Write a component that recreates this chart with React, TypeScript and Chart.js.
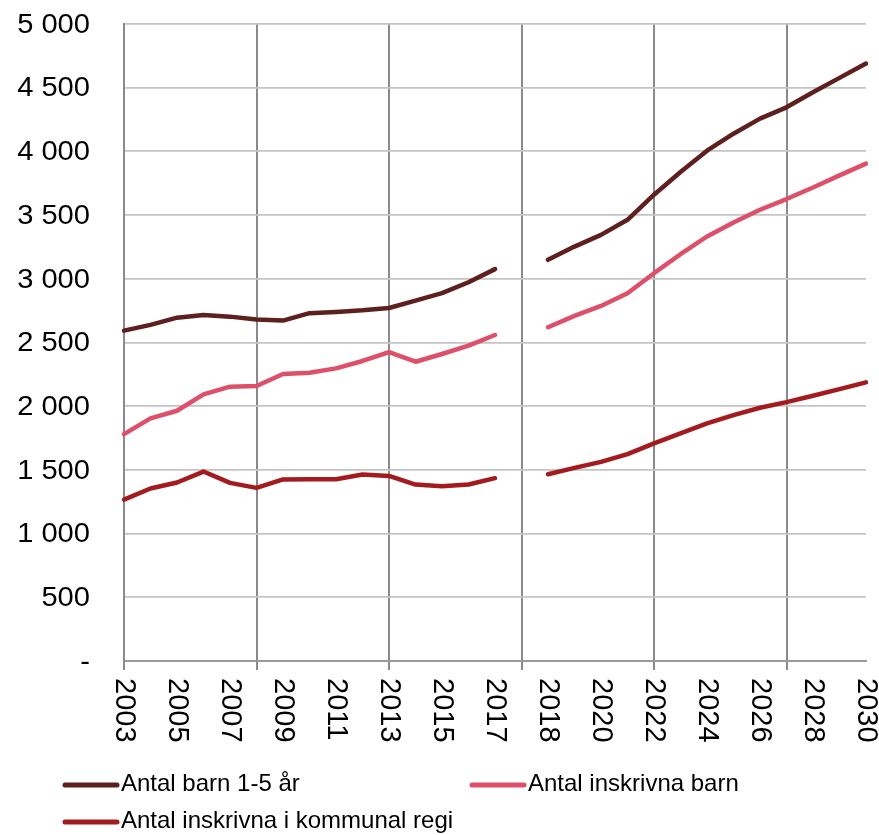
import { useEffect, useRef } from "react";
import { Chart, registerables } from "chart.js";

Chart.register(...registerables);

// Historical years, one empty slot separating history from the forecast, then forecast years
const historyYears = ["2003", "2004", "2005", "2006", "2007", "2008", "2009", "2010", "2011", "2012", "2013", "2014", "2015", "2016", "2017"];
const forecastYears = ["2018", "2019", "2020", "2021", "2022", "2023", "2024", "2025", "2026", "2027", "2028", "2029", "2030"];
const categories = [...historyYears, "", ...forecastYears];

// Year labels written under the axis
const xTickLabels = ["2003", "2005", "2007", "2009", "2011", "2013", "2015", "2017", "2018", "2020", "2022", "2024", "2026", "2028", "2030"];

// Value axis
const yTickValues = [0, 500, 1000, 1500, 2000, 2500, 3000, 3500, 4000, 4500, 5000];
const yTickLabels = ["-", "500", "1 000", "1 500", "2 000", "2 500", "3 000", "3 500", "4 000", "4 500", "5 000"];

// Antal barn 1-5 år
const childrenHistory = [2593, 2638, 2695, 2716, 2703, 2680, 2672, 2730, 2740, 2753, 2771, 2829, 2887, 2973, 3076];
const childrenForecast = [3149, 3253, 3345, 3463, 3660, 3838, 4006, 4139, 4257, 4346, 4464, 4577, 4690];

// Antal inskrivna barn
const enrolledHistory = [1781, 1904, 1964, 2093, 2153, 2158, 2253, 2263, 2297, 2355, 2425, 2349, 2410, 2475, 2559];
const enrolledForecast = [2620, 2709, 2787, 2887, 3044, 3193, 3332, 3442, 3542, 3626, 3717, 3812, 3904];

// Antal inskrivna i kommunal regi
const municipalHistory = [1267, 1354, 1401, 1487, 1398, 1359, 1425, 1427, 1427, 1464, 1453, 1385, 1372, 1385, 1435];
const municipalForecast = [1466, 1516, 1563, 1624, 1708, 1786, 1865, 1930, 1988, 2032, 2082, 2134, 2187];

const seriesLabels = ["Antal barn 1-5 år", "Antal inskrivna barn", "Antal inskrivna i kommunal regi"];
const seriesColors = ["#5E1F1F", "#DE506A", "#A31B1E"];

const FONT = "'Liberation Sans', Arial, sans-serif";

const joinSeries = (hist: number[], fc: number[]) => [...hist, null, ...fc];

// Legend placement: swatch start x, row centre y
const legendSlots = [
  { x: 63, y: 785 },
  { x: 470, y: 785 },
  { x: 63, y: 822 },
];

const axisTextPlugin = {
  id: "axisText",
  afterDraw(chart: any) {
    const { ctx } = chart;
    const xs = chart.scales.x;
    const ys = chart.scales.y;
    ctx.save();
    ctx.fillStyle = "#000000";

    // value labels
    ctx.font = `28px ${FONT}`;
    ctx.textAlign = "right";
    ctx.textBaseline = "middle";
    yTickValues.forEach((v, i) => {
      const py = ys.getPixelForValue(v);
      ctx.save();
      ctx.translate(90, py + 1);
      ctx.scale(1.04, 1);
      ctx.fillText(yTickLabels[i], 0, 0);
      ctx.restore();
    });

    // year labels, turned clockwise
    ctx.font = `29px ${FONT}`;
    ctx.textAlign = "left";
    ctx.textBaseline = "middle";
    xTickLabels.forEach((lbl) => {
      const idx = categories.indexOf(lbl);
      const px = xs.getPixelForValue(idx);
      ctx.save();
      ctx.translate(px, 678);
      ctx.rotate(Math.PI / 2);
      ctx.fillText(lbl, 0, 0);
      ctx.restore();
    });

    // legend
    ctx.font = `24px ${FONT}`;
    ctx.textAlign = "left";
    ctx.textBaseline = "middle";
    chart.data.datasets.forEach((ds: any, i: number) => {
      const slot = legendSlots[i];
      ctx.strokeStyle = ds.borderColor;
      ctx.lineWidth = 5;
      ctx.lineCap = "round";
      ctx.beginPath();
      ctx.moveTo(slot.x + 2, slot.y);
      ctx.lineTo(slot.x + 54, slot.y);
      ctx.stroke();
      ctx.fillStyle = "#000000";
      ctx.fillText(ds.label, slot.x + 58, slot.y - 1);
    });
    ctx.restore();
  },
};

export default function App() {
  const canvasRef = useRef<HTMLCanvasElement | null>(null);

  useEffect(() => {
    if (!canvasRef.current) return;
    const histories = [childrenHistory, enrolledHistory, municipalHistory];
    const forecasts = [childrenForecast, enrolledForecast, municipalForecast];
    const chart = new Chart(canvasRef.current, {
      type: "line",
      data: {
        labels: categories,
        datasets: seriesLabels.map((label, i) => ({
          label,
          data: joinSeries(histories[i], forecasts[i]),
          borderColor: seriesColors[i],
          backgroundColor: seriesColors[i],
          borderWidth: 4.5,
          borderCapStyle: "round" as const,
          borderJoinStyle: "round" as const,
          pointRadius: 0,
          pointHoverRadius: 0,
          tension: 0,
          spanGaps: false,
        })),
      },
      options: {
        animation: false,
        responsive: true,
        maintainAspectRatio: false,
        layout: { padding: { top: 24, right: 13, bottom: 174, left: 0 } },
        plugins: {
          legend: { display: false },
          tooltip: { enabled: false },
          title: { display: false },
        },
        scales: {
          x: {
            type: "category",
            offset: false,
            ticks: { display: false, autoSkip: false },
            grid: {
              color: (c: any) => (c.index % 5 === 0 ? "#8a8a8a" : "rgba(0,0,0,0)"),
              tickColor: (c: any) => (c.index % 5 === 0 ? "#8a8a8a" : "rgba(0,0,0,0)"),
              lineWidth: 2,
              drawTicks: true,
              tickLength: 9,
            },
            border: { display: true, color: "#9a9a9a", width: 2 },
            afterFit: (s: any) => {
              s.height = 0;
            },
          },
          y: {
            min: 0,
            max: 5000,
            ticks: { display: false, stepSize: 500 },
            grid: { color: "#c4c4c4", lineWidth: 1.8, drawTicks: false },
            border: { display: true, color: "#8a8a8a", width: 2 },
            afterFit: (s: any) => {
              s.width = 124;
            },
          },
        },
      },
      plugins: [axisTextPlugin],
    });
    return () => chart.destroy();
  }, []);

  return (
    <div style={{ position: "absolute", left: 0, top: 0, width: 879, height: 835, background: "#ffffff" }}>
      <canvas ref={canvasRef} style={{ display: "block" }} />
    </div>
  );
}
